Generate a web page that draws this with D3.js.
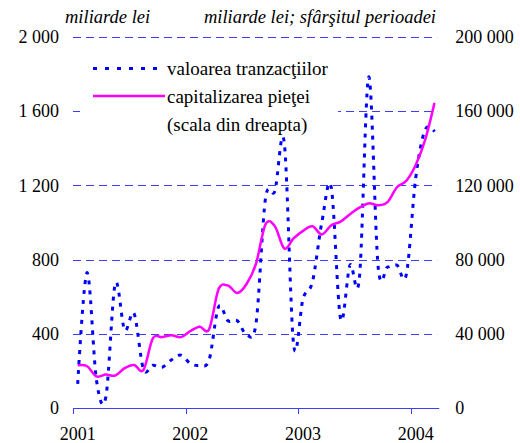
<!DOCTYPE html>
<html><head><meta charset="utf-8">
<script src="https://cdn.jsdelivr.net/npm/d3@7"></script>
<style>body{margin:0;background:#fff}svg{display:block}</style>
</head><body><svg id="c" width="520" height="443"></svg>
<script>
const categories = [
 "2001-01","2001-02","2001-03","2001-04","2001-05","2001-06","2001-07","2001-08","2001-09","2001-10","2001-11","2001-12",
 "2002-01","2002-02","2002-03","2002-04","2002-05","2002-06","2002-07","2002-08","2002-09","2002-10","2002-11","2002-12",
 "2003-01","2003-02","2003-03","2003-04","2003-05","2003-06","2003-07","2003-08","2003-09","2003-10","2003-11","2003-12",
 "2004-01","2004-02","2004-03"];
const yearCategories = ["2001-01","2002-01","2003-01","2004-01"];
const yearLabels = ["2001","2002","2003","2004"];
const leftTicks = [0,400,800,1200,1600,2000];
const rightTicks = [0,40000,80000,120000,160000,200000];
// valoarea tranzacţiilor (miliarde lei, scala din stânga)
const tranzactii = [130,730,150,60,670,420,510,210,230,220,260,285,
                    240,230,260,545,470,470,395,460,1130,1170,1430,340,
                    590,680,1000,1190,480,770,700,1785,760,760,770,720,
                    1240,1500,1490];
// capitalizarea pieţei (miliarde lei, scala din dreapta)
const capitalizare = [23000,22500,17000,18000,17500,21500,23200,20500,37500,38200,39200,38200,
                      41500,43800,42500,64000,66000,62000,67000,78000,99000,98000,86000,91500,
                      95500,98000,93500,98500,100500,104500,108000,110300,109300,111000,119000,122500,
                      131000,144500,164500];
const legendLabels = ["valoarea tranzacţiilor","capitalizarea pieţei","(scala din dreapta)"];
const unitLeft = "miliarde lei";
const unitRight = "miliarde lei; sfârşitul perioadei";

const svg = d3.select("#c");
const FONT = "Liberation Serif";
const L = 73, R = 439.2, T = 37, B = 408;

const x = d3.scaleBand().domain(categories).range([L, R]).paddingInner(0).paddingOuter(0);
const xc = c => x(c) + x.bandwidth()/2;
const yL = d3.scaleLinear().domain([0,2000]).range([B, T]);
const yR = d3.scaleLinear().domain([0,200000]).range([B, T]);
const fmt = d3.formatLocale({thousands:"\u00a0", grouping:[3], decimal:",", currency:["",""]}).format(",");

function styleText(sel, size, italic) {
  sel.attr("font-family", FONT).attr("font-size", size).attr("fill", "#000");
  if (italic) sel.attr("font-style", "italic");
  return sel;
}

// gridlines
svg.append("g").selectAll("line").data(leftTicks.filter(d=>d>0)).join("line")
  .attr("x1", L).attr("x2", R-2)
  .attr("y1", d=>Math.round(yL(d))+0.5).attr("y2", d=>Math.round(yL(d))+0.5)
  .attr("stroke","#3d3dff").attr("stroke-width",1).attr("stroke-dasharray","8,5");

// left axis labels
const gl = svg.append("g").attr("transform",`translate(${L},0)`)
  .call(d3.axisLeft(yL).tickValues(leftTicks).tickSize(0).tickPadding(14).tickFormat(fmt));
gl.attr("font-family", FONT);
gl.select(".domain").remove();
styleText(gl.selectAll("text"), 18);

// right axis labels
const gr = svg.append("g").attr("transform",`translate(${R},0)`)
  .call(d3.axisRight(yR).tickValues(rightTicks).tickSize(0).tickPadding(16).tickFormat(fmt));
gr.attr("font-family", FONT);
gr.select(".domain").remove();
styleText(gr.selectAll("text"), 18);

// x axis
const xa = svg.append("g");
xa.append("line").attr("x1",L).attr("x2",R).attr("y1",B+0.5).attr("y2",B+0.5)
  .attr("stroke","#3d3dff").attr("stroke-width",1);
xa.selectAll("line.tick").data(yearCategories).join("line").attr("class","tick")
  .attr("x1",d=>Math.round(x(d))+0.5).attr("x2",d=>Math.round(x(d))+0.5)
  .attr("y1",B).attr("y2",B+6).attr("stroke","#3d3dff").attr("stroke-width",1);
styleText(xa.selectAll("text").data(yearCategories).join("text")
  .attr("x",d=>xc(d)).attr("y",440).attr("text-anchor","middle")
  .text((d,i)=>yearLabels[i]), 18);

// unit titles
styleText(svg.append("text").attr("x",65).attr("y",23).text(unitLeft), 18.5, true);
styleText(svg.append("text").attr("x",436).attr("y",23).attr("text-anchor","end").text(unitRight), 18.5, true);

// legend background
svg.append("rect").attr("x",80).attr("y",50).attr("width",258).attr("height",88).attr("fill","#fff");

// series
const curve = d3.curveCatmullRom.alpha(0);
const lineL = d3.line().x((d,i)=>xc(categories[i])).y(d=>yL(d)).curve(curve);
const lineR = d3.line().x((d,i)=>xc(categories[i])).y(d=>yR(d)).curve(curve);
svg.append("path").attr("d",lineL(tranzactii)).attr("fill","none")
  .attr("stroke","#0000ff").attr("stroke-width",3).attr("stroke-dasharray","4,6");
svg.append("path").attr("d",lineR(capitalizare)).attr("fill","none")
  .attr("stroke","#ff00ff").attr("stroke-width",2.5);

// legend
const lg = svg.append("g");
lg.append("line").attr("x1",93).attr("x2",165).attr("y1",68.5).attr("y2",68.5)
  .attr("stroke","#0000ff").attr("stroke-width",3).attr("stroke-dasharray","4,8");
lg.append("line").attr("x1",93).attr("x2",165).attr("y1",96).attr("y2",96)
  .attr("stroke","#ff00ff").attr("stroke-width",2.5);
styleText(lg.selectAll("text").data(legendLabels).join("text")
  .attr("x",167).attr("y",(d,i)=>[75,103,131][i]).text(d=>d), 19);
</script></body></html>
